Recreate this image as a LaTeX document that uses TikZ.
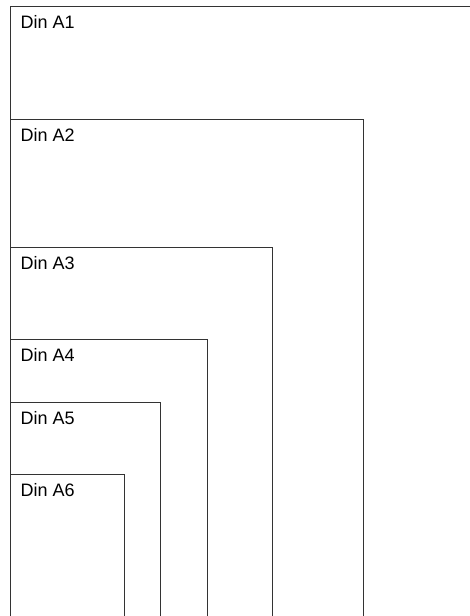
\documentclass[tikz,border=0pt]{standalone}
\usepackage{fontspec}
\setmainfont{Liberation Sans}
\tikzset{
  sheet/.style = {draw=black!80, line width=0.9pt},% one paper size
  lbl/.style = {anchor=base west, inner sep=0pt,
    font=\fontsize{18}{20}\selectfont}% size name
}
\begin{document}
\begin{tikzpicture}[x=1pt,y=-1pt]
\useasboundingbox (0,0) rectangle (470,616);
\clip (0,0) rectangle (470,616);
\foreach \n/\t/\r in {1/6/480, 2/119.5/363.3, 3/247.5/272.7, 4/339.5/207.7, 5/402.5/160, 6/474.5/124}{
  \draw[sheet] (10,630) |- (\r,\t) -- (\r,630);
  \node[lbl] (lblA\n) at (20.5,\t+22) {Din A\n};
}
\end{tikzpicture}
\end{document}
